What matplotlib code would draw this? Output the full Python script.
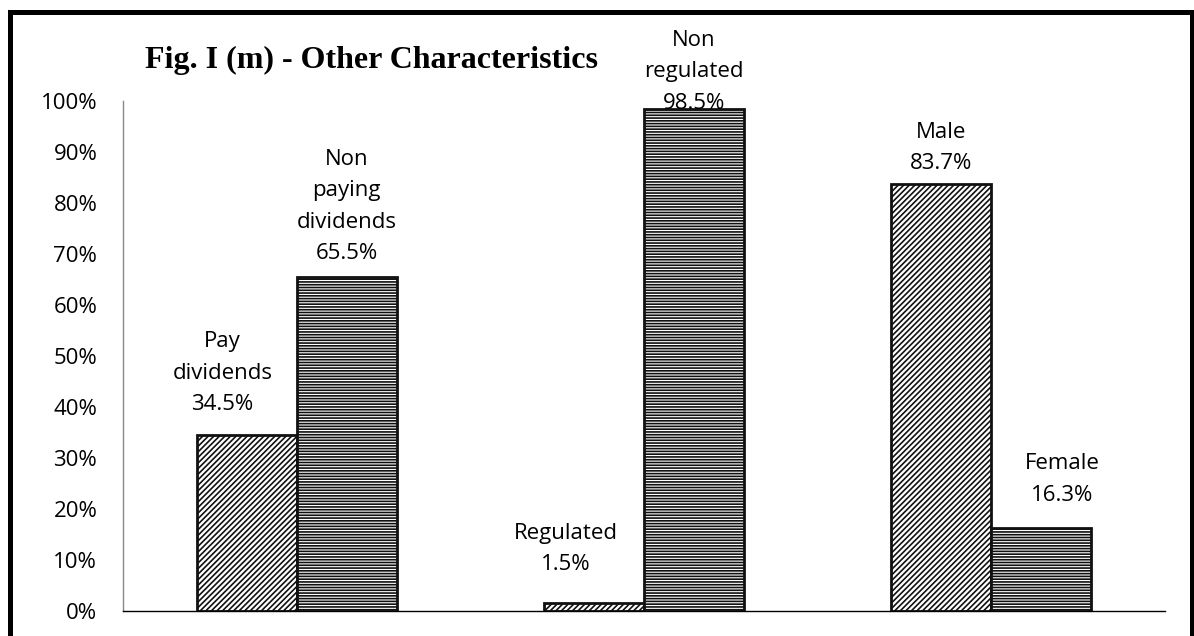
import numpy as np
import matplotlib.pyplot as plt
from matplotlib.patches import Rectangle

# values
groups = ["Dividends", "Regulation", "Gender"]
first_vals = [0.345, 0.015, 0.837]
second_vals = [0.655, 0.985, 0.163]
first_labels = ["Pay\ndividends\n34.5%", "Regulated\n1.5%", "Male\n83.7%"]
second_labels = ["Non\npaying\ndividends\n65.5%", "Non\nregulated\n98.5%", "Female\n16.3%"]
yticks = np.arange(0, 1.01, 0.1)

plt.rcParams['hatch.linewidth'] = 1.2
W, H = 1194, 636
fig = plt.figure(figsize=(W / 100, H / 100), dpi=100)
ax = fig.add_axes([123 / W, 25 / H, (1165 - 123) / W, (611 - 101) / H])

x = np.arange(len(groups))
bw = 0.288
ax.bar(x - bw / 2, first_vals, bw, color="white", edgecolor="#111111",
       hatch="//////", linewidth=2)
ax.bar(x + bw / 2, second_vals, bw, color="white", edgecolor="#111111",
       hatch="------", linewidth=2)

font = "Open Sans"
# label placement as in the original (pixel shifts, pixel gap above bar)
dx1 = [-24, -28, 0]
gap1 = [20, 28, 10]
dx2 = [0, 0, 21]
gap2 = [13, -5, 22]
for i in range(len(groups)):
    ax.annotate(first_labels[i], (x[i] - bw / 2, first_vals[i]),
                xytext=(dx1[i] * 0.72, gap1[i] * 0.72), textcoords="offset points",
                ha="center", va="bottom", fontsize=16, family=font, linespacing=1.65)
    ax.annotate(second_labels[i], (x[i] + bw / 2, second_vals[i]),
                xytext=(dx2[i] * 0.72, gap2[i] * 0.72), textcoords="offset points",
                ha="center", va="bottom", fontsize=16, family=font, linespacing=1.65)

ax.set_xlim(-0.5, 2.5)
ax.set_ylim(0, 1)
ax.set_yticks(yticks)
ax.set_yticklabels([f"{int(round(v * 100))}%" for v in yticks], family=font, fontsize=16)
ax.set_xticks([])
ax.tick_params(axis="y", length=0, pad=18.5)
for s in ["top", "right"]:
    ax.spines[s].set_visible(False)
ax.spines["left"].set_color("#888888")
ax.spines["left"].set_linewidth(1)
ax.spines["bottom"].set_linewidth(1)

fig.text(145 / W, 1 - 68 / H, "Fig. I (m) - Other Characteristics", family="Liberation Serif",
         fontweight="bold", fontsize=23, va="baseline", ha="left")

# outer frame
fig.patches.append(Rectangle((9.5 / W, -0.05), (1192 - 9.5) / W, (H - 12.5) / H + 0.05,
                             transform=fig.transFigure, fill=False, edgecolor="black",
                             linewidth=3.6))

fig.savefig("out.png", dpi=100)
